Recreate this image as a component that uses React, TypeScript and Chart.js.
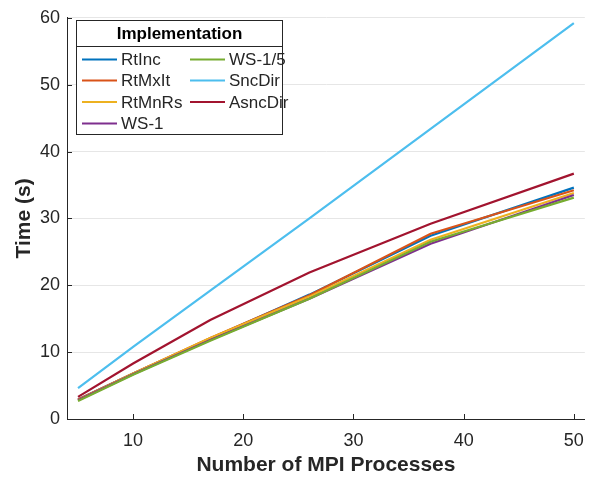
import React, { useEffect, useRef } from "react";
import { Chart, registerables } from "chart.js";

Chart.register(...registerables);

const xValues = [5, 10, 17, 26, 37, 50];
const xTicks = [10, 20, 30, 40, 50];
const rtInc = [2.9, 6.8, 12.0, 18.6, 27.4, 34.6];
const rtMxIt = [2.9, 6.8, 12.1, 18.5, 27.7, 34.2];
const rtMnRs = [2.8, 6.8, 12.1, 18.3, 26.8, 33.8];
const ws1 = [2.8, 6.7, 11.8, 18.0, 26.2, 33.5];
const ws15 = [2.7, 6.6, 11.7, 18.0, 26.5, 33.1];
const sncDir = [4.6, 10.8, 19.2, 30.0, 43.4, 59.2];
const asncDir = [3.3, 8.3, 14.8, 21.9, 29.2, 36.7];

const seriesNames = ["RtInc", "RtMxIt", "RtMnRs", "WS-1", "WS-1/5", "SncDir", "AsncDir"];
const seriesValues = [rtInc, rtMxIt, rtMnRs, ws1, ws15, sncDir, asncDir];
const seriesColors = ["#0072BD", "#D95319", "#EDB120", "#7E2F8E", "#77AC30", "#4DBEEE", "#A2142F"];

const FONT = "'Liberation Sans', Arial, Helvetica, sans-serif";
const TEXT = "#262626";

const inwardTicks = {
  id: "inwardTicks",
  afterDraw(chart: any) {
    const { ctx, chartArea, scales } = chart;
    ctx.save();
    ctx.strokeStyle = TEXT;
    ctx.lineWidth = 1;
    ctx.beginPath();
    for (const t of scales.x.ticks) {
      const px = Math.round(scales.x.getPixelForValue(t.value)) + 0.5;
      ctx.moveTo(px, chartArea.bottom);
      ctx.lineTo(px, chartArea.bottom - 5);
    }
    for (const t of scales.y.ticks) {
      const py = Math.round(scales.y.getPixelForValue(t.value)) + 0.5;
      ctx.moveTo(chartArea.left, py);
      ctx.lineTo(chartArea.left + 5, py);
    }
    ctx.stroke();
    ctx.restore();
  },
};

const boxLegend = {
  id: "boxLegend",
  afterDraw(chart: any) {
    const { ctx } = chart;
    const ds = chart.data.datasets;
    const left = 76.5, top = 20.5, width = 206, height = 114;
    ctx.save();
    ctx.fillStyle = "#ffffff";
    ctx.fillRect(left, top, width, height);
    ctx.strokeStyle = TEXT;
    ctx.lineWidth = 1;
    ctx.strokeRect(left, top, width, height);
    ctx.beginPath();
    ctx.moveTo(left, 46.5);
    ctx.lineTo(left + width, 46.5);
    ctx.stroke();
    ctx.fillStyle = "#000000";
    ctx.font = `bold 17px ${FONT}`;
    ctx.textAlign = "center";
    ctx.textBaseline = "middle";
    ctx.fillText("Implementation", left + width / 2, 34);
    ctx.font = `17px ${FONT}`;
    ctx.textAlign = "left";
    const rows = 4;
    const colX = [82, 190];
    const rowY = [59.5, 80.5, 102, 123.5];
    ds.forEach((d: any, i: number) => {
      const c = Math.floor(i / rows);
      const r = i % rows;
      const x0 = colX[c];
      const y = rowY[r];
      ctx.strokeStyle = d.borderColor;
      ctx.lineWidth = 2;
      ctx.beginPath();
      ctx.moveTo(x0, y);
      ctx.lineTo(x0 + 35, y);
      ctx.stroke();
      ctx.fillStyle = TEXT;
      ctx.fillText(d.label, x0 + 39, y + 1);
    });
    ctx.restore();
  },
};

export default function App() {
  const ref = useRef<HTMLCanvasElement>(null);
  useEffect(() => {
    if (!ref.current) return;
    const datasets = seriesNames.map((name, i) => ({
      label: name,
      data: xValues.map((x, j) => ({ x, y: seriesValues[i][j] })),
      borderColor: seriesColors[i],
      backgroundColor: seriesColors[i],
      borderWidth: 2.2,
      pointRadius: 0,
      fill: false,
      tension: 0,
      order: seriesNames.length - 1 - i,
    }));
    const chart = new Chart(ref.current, {
      type: "line",
      data: { datasets },
      options: {
        responsive: false,
        animation: false,
        layout: { padding: { left: 0, top: 11, right: 7, bottom: 0 } },
        plugins: { legend: { display: false }, tooltip: { enabled: false } },
        scales: {
          x: {
            type: "linear",
            min: 4,
            max: 51,
            afterBuildTicks: (s: any) => {
              s.ticks = xTicks.map((v) => ({ value: v }));
            },
            afterFit: (s: any) => {
              s.height = 62;
            },
            grid: { display: false, drawTicks: false },
            border: { display: true, color: TEXT, width: 1 },
            ticks: { color: TEXT, font: { family: FONT, size: 18 }, padding: 11, maxRotation: 0 },
            title: {
              display: true,
              text: "Number of MPI Processes",
              color: TEXT,
              font: { family: FONT, size: 21, weight: "bold" },
              padding: { top: 0, bottom: 3 },
            },
          },
          y: {
            type: "linear",
            min: 0,
            max: 60,
            afterFit: (s: any) => {
              s.width = 67;
            },
            grid: { color: "#e6e6e6", drawTicks: false },
            border: { display: true, color: TEXT, width: 1 },
            ticks: { stepSize: 10, color: TEXT, font: { family: FONT, size: 18 }, padding: 7 },
            title: {
              display: true,
              text: "Time (s)",
              color: TEXT,
              font: { family: FONT, size: 21, weight: "bold" },
              padding: { top: 12, bottom: 0 },
            },
          },
        },
      },
      plugins: [inwardTicks, boxLegend],
    } as any);
    return () => chart.destroy();
  }, []);
  return (
    <div style={{ position: "absolute", left: 0, top: 0, width: 595, height: 481, background: "#fff" }}>
      <canvas ref={ref} width={595} height={481} />
    </div>
  );
}
